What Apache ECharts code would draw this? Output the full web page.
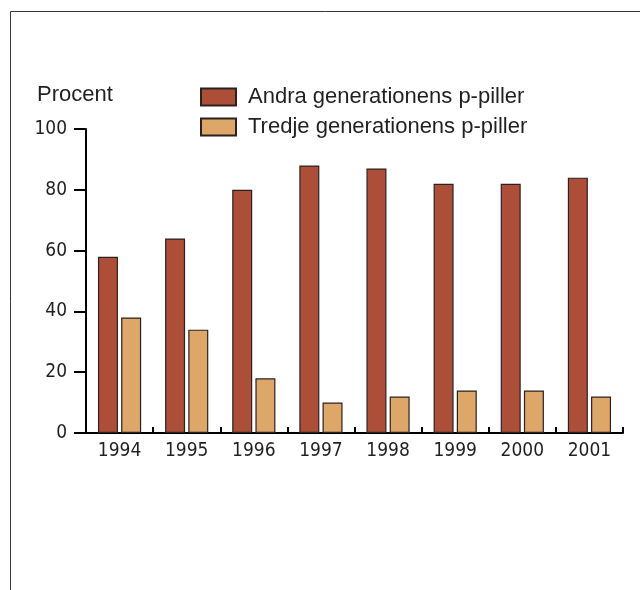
<!DOCTYPE html>
<html>
<head>
<meta charset="utf-8">
<script src="https://cdn.jsdelivr.net/npm/echarts@6/dist/echarts.min.js"></script>
<style>html,body{margin:0;padding:0;background:#fff}#c{width:640px;height:590px}</style>
</head>
<body>
<div id="c"></div>
<script>
const years = ['1994','1995','1996','1997','1998','1999','2000','2001'];
const andra = [58, 64, 80, 88, 87, 82, 82, 84];
const tredje = [38, 34, 18, 10, 12, 14, 14, 12];
const seriesNames = ['Andra generationens p-piller', 'Tredje generationens p-piller'];
const yTitle = 'Procent';

const txt = '#231f20';
const narrow = '"DejaVu Sans Condensed", "Liberation Sans Narrow", sans-serif';
const wide = '"Liberation Sans", Arial, sans-serif';

const chart = echarts.init(document.getElementById('c'), null, {renderer: 'canvas'});
chart.setOption({
  animation: false,
  backgroundColor: '#fff',
  graphic: [
    {type: 'rect', shape: {x: 10.5, y: 11.5, width: 700, height: 700}, style: {fill: 'none', stroke: '#3a3530', lineWidth: 1}, silent: true},
    {type: 'text', left: 37, top: 84, style: {text: yTitle, font: '22px ' + wide, fill: txt}}
  ],
  legend: {
    orient: 'vertical',
    left: 200,
    top: 86,
    padding: 0,
    icon: 'rect',
    itemWidth: 35,
    itemHeight: 17,
    itemGap: 8,
    textStyle: {fontFamily: wide, fontSize: 22, lineHeight: 17, color: txt, padding: [0, 0, 0, 7]},
    data: seriesNames
  },
  grid: {left: 86, right: 17, top: 129, bottom: 157, containLabel: false},
  xAxis: {
    type: 'category',
    data: years,
    axisLine: {lineStyle: {color: '#000', width: 2}},
    axisTick: {show: true, inside: true, length: 6, lineStyle: {color: '#000', width: 2}},
    axisLabel: {fontFamily: narrow, fontSize: 19, color: txt, margin: 9}
  },
  yAxis: {
    type: 'value',
    min: 0, max: 100, interval: 20,
    splitLine: {show: false},
    axisLine: {show: true, lineStyle: {color: '#000', width: 2}},
    axisTick: {show: true, length: 12, lineStyle: {color: '#000', width: 2}},
    axisLabel: {fontFamily: narrow, fontSize: 19, color: txt, margin: 19}
  },
  series: [
    {name: seriesNames[0], type: 'bar', data: andra, barWidth: 20, barGap: '16%',
     itemStyle: {color: '#ad4f38', borderColor: '#2a2220', borderWidth: 1.2}},
    {name: seriesNames[1], type: 'bar', data: tredje, barWidth: 20,
     itemStyle: {color: '#dca769', borderColor: '#2a2220', borderWidth: 1.2}}
  ]
});
</script>
</body>
</html>
